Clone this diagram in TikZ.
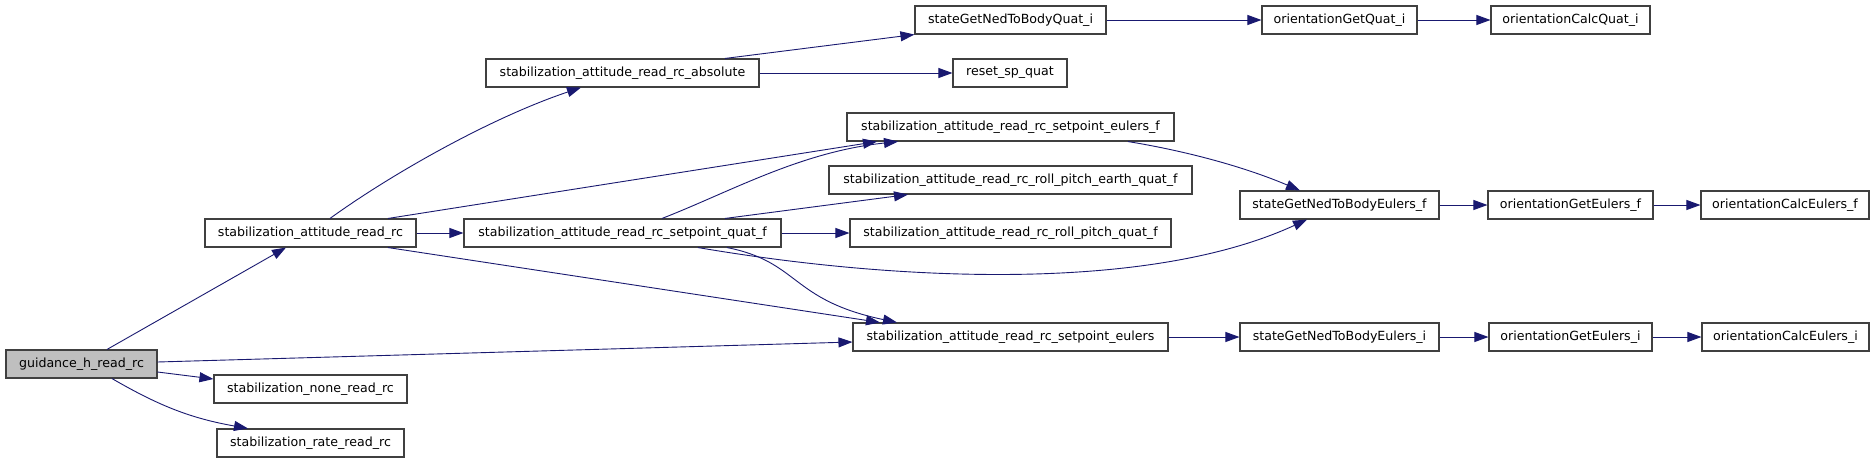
\documentclass[tikz,border=0pt]{standalone}
\usepackage{fontspec}
\setmainfont{DejaVu Sans}
\usetikzlibrary{arrows.meta}
\definecolor{edgeblue}{HTML}{191970}
\definecolor{boxline}{HTML}{404040}
\tikzset{
  fn/.style={draw=boxline, line width=1.1pt, rectangle, minimum height=28pt, inner sep=0pt,
    font=\fontsize{12.6}{15}\selectfont, text=black},
  root/.style={fn, fill=black!25},
  edge/.style={draw=edgeblue, line width=0.9pt, -{Triangle[length=14pt,width=10pt]}, edgeblue}
}
\begin{document}
\begin{tikzpicture}[x=1pt, y=-1pt]
\useasboundingbox[fill=white] (0,0) rectangle (1875,463);
% nodes
\node[root, minimum width=151pt] (guid) at (81.5,364) {guidance\_h\_read\_rc};
\node[fn, minimum width=211pt] (sarc) at (310.5,233) {stabilization\_attitude\_read\_rc};
\node[fn, minimum width=193pt] (none) at (310.5,389) {stabilization\_none\_read\_rc};
\node[fn, minimum width=187pt] (rate) at (310.5,443) {stabilization\_rate\_read\_rc};
\node[fn, minimum width=273pt] (abs) at (622.5,73) {stabilization\_attitude\_read\_rc\_absolute};
\node[fn, minimum width=317pt] (spqf) at (622.5,233) {stabilization\_attitude\_read\_rc\_setpoint\_quat\_f};
\node[fn, minimum width=191pt] (sgnbq) at (1010.5,20) {stateGetNedToBodyQuat\_i};
\node[fn, minimum width=114pt] (reset) at (1010,73) {reset\_sp\_quat};
\node[fn, minimum width=327pt] (speulf) at (1010.5,127) {stabilization\_attitude\_read\_rc\_setpoint\_eulers\_f};
\node[fn, minimum width=363pt] (rpeqf) at (1010.5,180) {stabilization\_attitude\_read\_rc\_roll\_pitch\_earth\_quat\_f};
\node[fn, minimum width=321pt] (rpqf) at (1010.5,233) {stabilization\_attitude\_read\_rc\_roll\_pitch\_quat\_f};
\node[fn, minimum width=315pt] (speul) at (1010.5,337) {stabilization\_attitude\_read\_rc\_setpoint\_eulers};
\node[fn, minimum width=155pt] (ogq) at (1339.5,20) {orientationGetQuat\_i};
\node[fn, minimum width=159pt] (ocq) at (1570.5,20) {orientationCalcQuat\_i};
\node[fn, minimum width=199pt] (sgnef) at (1339.5,205) {stateGetNedToBodyEulers\_f};
\node[fn, minimum width=199pt] (sgnei) at (1339.5,337) {stateGetNedToBodyEulers\_i};
\node[fn, minimum width=165pt] (ogef) at (1570.5,205) {orientationGetEulers\_f};
\node[fn, minimum width=168pt] (ocef) at (1785,205) {orientationCalcEulers\_f};
\node[fn, minimum width=163pt] (ogei) at (1570.5,337) {orientationGetEulers\_i};
\node[fn, minimum width=167pt] (ocei) at (1785.5,337) {orientationCalcEulers\_i};
% edges
\draw[edge] ([xshift=25.5pt]guid.north) -- ([xshift=-24.5pt]sarc.south);
\draw[edge] ([yshift=2pt]guid.east) -- ([yshift=-5pt]speul.west);
\draw[edge] ([yshift=-8pt]guid.east) -- ([yshift=10pt]none.west);
\draw[edge] ([xshift=30.5pt]guid.south) to[bend right=10] ([xshift=-62.5pt]rate.north);
\draw[edge] ([xshift=19.5pt]sarc.north) .. controls (390,175) and (490,118) .. ([xshift=-41.5pt]abs.south);
\draw[edge] ([xshift=77.5pt]sarc.north) -- ([xshift=-133.5pt]speulf.south);
\draw[edge] (sarc.east) -- (spqf.west);
\draw[edge] ([xshift=77.5pt]sarc.south) -- ([xshift=-130.5pt]speul.north);
\draw[edge] ([xshift=39.5pt]spqf.north) .. controls (730,192) and (800,152) .. ([xshift=-112.5pt]speulf.south);
\draw[edge] ([xshift=102.5pt]spqf.north) -- ([xshift=-102.5pt]rpeqf.south);
\draw[edge] (spqf.east) -- (rpqf.west);
\draw[edge] ([xshift=104.5pt]spqf.south) .. controls (800,262) and (790,300) .. ([xshift=-113.5pt]speul.north);
\draw[edge] ([xshift=75.5pt]spqf.south) .. controls (900,282) and (1150,292) .. ([xshift=-32.5pt]sgnef.south);
\draw[edge] ([xshift=117.5pt]speulf.south) .. controls (1180,150) and (1240,165) .. ([xshift=-39.5pt]sgnef.north);
\draw[edge] ([xshift=102.5pt]abs.north) -- (sgnbq.south west);
\draw[edge] (abs.east) -- (reset.west);
\draw[edge] (sgnbq.east) -- (ogq.west);
\draw[edge] (ogq.east) -- (ocq.west);
\draw[edge] (speul.east) -- (sgnei.west);
\draw[edge] (sgnef.east) -- (ogef.west);
\draw[edge] (ogef.east) -- (ocef.west);
\draw[edge] (sgnei.east) -- (ogei.west);
\draw[edge] (ogei.east) -- (ocei.west);
\end{tikzpicture}
\end{document}
